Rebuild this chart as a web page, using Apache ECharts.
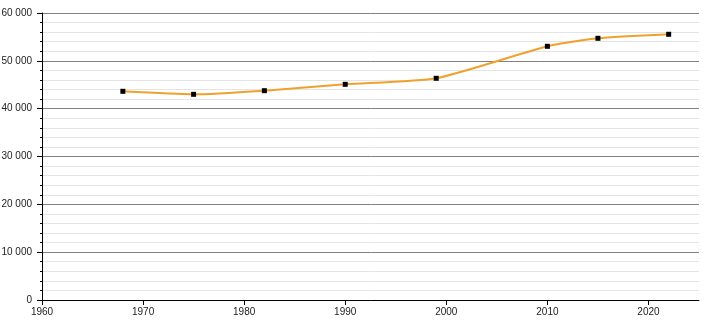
<!DOCTYPE html>
<html><head><meta charset="utf-8">
<script src="https://cdn.jsdelivr.net/npm/echarts@6/dist/echarts.min.js"></script>
<style>html,body{margin:0;padding:0;background:#fff}#c{width:710px;height:320px}</style>
</head><body><div id="c"></div>
<script>
const years = [1968, 1975, 1982, 1990, 1999, 2010, 2015, 2022];
const population = [43630, 43000, 43760, 45090, 46350, 53040, 54710, 55550];
const xTicks = [1960, 1970, 1980, 1990, 2000, 2010, 2020];
const yTicks = [0, 10000, 20000, 30000, 40000, 50000, 60000];

const fmt = v => String(v).replace(/\B(?=(\d{3})+(?!\d))/g, ' ');
const chart = echarts.init(document.getElementById('c'), null, {renderer: 'canvas'});
chart.setOption({
  animation: false,
  grid: {left: 42, right: 11, top: 13, bottom: 20, containLabel: false, outerBoundsMode: 'none'},
  xAxis: {
    type: 'value', min: 1960, max: 2025, interval: 10,
    axisLine: {show: true, lineStyle: {color: '#000', width: 1}},
    axisTick: {show: true, length: 5, lineStyle: {color: '#000'}, customValues: xTicks},
    axisLabel: {customValues: xTicks, color: '#222', fontFamily: 'Liberation Sans, Arial', fontSize: 10, margin: 7, formatter: v => String(v)},
    splitLine: {show: false}
  },
  yAxis: {
    type: 'value', min: 0, max: 60000, interval: 10000,
    axisLine: {show: true, lineStyle: {color: '#000', width: 1}},
    axisTick: {show: true, length: 5, lineStyle: {color: '#000'}},
    minorTick: {show: true, splitNumber: 5, length: 2, lineStyle: {color: '#000'}},
    axisLabel: {color: '#222', fontFamily: 'Liberation Sans, Arial', fontSize: 10, margin: 10, formatter: v => fmt(v)},
    splitLine: {show: true, lineStyle: {color: '#808080', width: 1}},
    minorSplitLine: {show: true, lineStyle: {color: '#e4e4e4', width: 1}}
  },
  series: [{
    type: 'line',
    data: years.map((y, i) => [y, population[i]]),
    smooth: 0.2,
    lineStyle: {color: '#f2a02c', width: 2},
    symbol: 'rect', symbolSize: 5,
    itemStyle: {color: '#000'},
    z: 5
  }]
});
</script></body></html>
